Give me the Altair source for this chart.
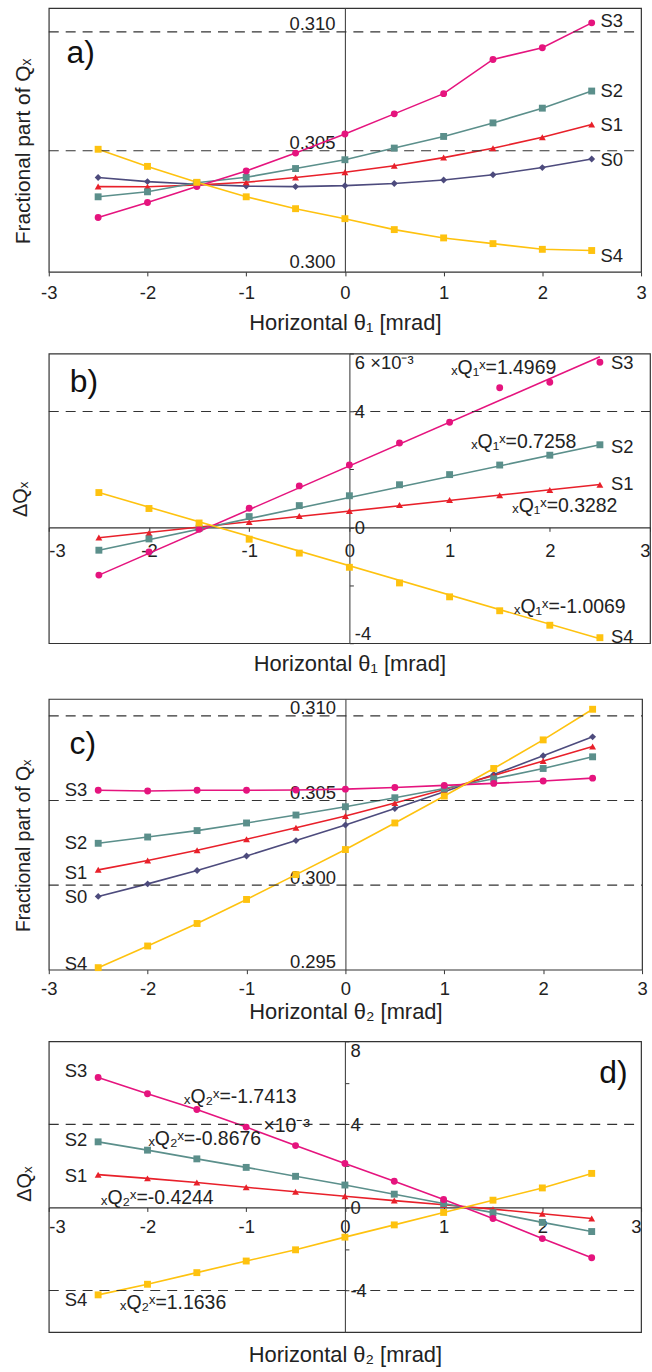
import altair as alt
import pandas as pd

FONT = "Liberation Sans"
INK = "#222222"

theta = [-2.5, -2.0, -1.5, -1.0, -0.5, 0.0, 0.5, 1.0, 1.5, 2.0, 2.5]
fit_theta = [-2.5, 2.5]
series_names = ["S0", "S1", "S2", "S3", "S4"]
series_colors = ["#4d4b7d", "#e8202a", "#5b8f8b", "#e5147e", "#fec20f"]
series_shapes = ["diamond", "triangle-up", "square", "circle", "square"]
x_ticks = [-3, -2, -1, 0, 1, 2, 3]

# ---------------- panel a : fractional tune vs theta1
a_S0 = [0.30387, 0.30370, 0.30359, 0.30351, 0.30349, 0.30353, 0.30362, 0.30377, 0.30399, 0.30429, 0.30465]
a_S1 = [0.30349, 0.30348, 0.30356, 0.30367, 0.30387, 0.30409, 0.30437, 0.30471, 0.30510, 0.30557, 0.30610]
a_S2 = [0.30306, 0.30327, 0.30365, 0.30388, 0.30425, 0.30462, 0.30511, 0.30560, 0.30617, 0.30679, 0.30751]
a_S3 = [0.30219, 0.30282, 0.30349, 0.30415, 0.30490, 0.30570, 0.30655, 0.30740, 0.30884, 0.30933, 0.31038]
a_S4 = [0.30506, 0.30434, 0.30367, 0.30306, 0.30256, 0.30214, 0.30168, 0.30133, 0.30109, 0.30085, 0.30080]
a_y_ticks = [0.300, 0.305, 0.310]
a_dashed = [0.305, 0.310]
a_label_text = ["S3", "S2", "S1", "S0", "S4"]
a_label_x = [2.59, 2.59, 2.59, 2.59, 2.59]
a_label_y = [0.31046, 0.30751, 0.30609, 0.30460, 0.30058]

# ---------------- panel b : delta Q vs theta1 (x1e-3)
b_S1 = [-0.35, -0.20, 0.00, 0.18, 0.39, 0.56, 0.77, 0.94, 1.11, 1.29, 1.47]
b_S2 = [-0.79, -0.40, -0.03, 0.37, 0.75, 1.09, 1.47, 1.82, 2.15, 2.49, 2.85]
b_S3 = [-1.65, -0.85, -0.07, 0.66, 1.43, 2.15, 2.91, 3.63, 4.82, 5.01, 5.70]
b_S4 = [1.20, 0.65, 0.15, -0.41, -0.89, -1.38, -1.92, -2.40, -2.88, -3.38, -3.81]
b_fit_S1 = [-0.36, 1.48]
b_fit_S2 = [-0.79, 2.85]
b_fit_S3 = [-1.65, 5.89]
b_fit_S4 = [1.20, -3.85]
b_y_ticks = [-4, -2, 0, 2, 4, 6]
b_dashed = [4]
b_label_text = ["S3", "S2", "S1", "S4"]
b_label_x = [2.61, 2.61, 2.61, 2.61]
b_label_y = [5.68, 2.78, 1.50, -3.78]
b_ann_text = ["ₓQ₁ˣ=1.4969", "ₓQ₁ˣ=0.7258", "ₓQ₁ˣ=0.3282", "ₓQ₁ˣ=-1.0069"]
b_ann_x = [1.54, 1.74, 2.15, 2.20]
b_ann_y = [5.51, 2.94, 0.74, -2.75]

# ---------------- panel c : fractional tune vs theta2
c_S0 = [0.29933, 0.30007, 0.30086, 0.30172, 0.30263, 0.30355, 0.30452, 0.30552, 0.30654, 0.30764, 0.30876]
c_S1 = [0.30090, 0.30145, 0.30206, 0.30271, 0.30339, 0.30408, 0.30485, 0.30565, 0.30648, 0.30733, 0.30819]
c_S2 = [0.30247, 0.30284, 0.30322, 0.30367, 0.30414, 0.30463, 0.30516, 0.30571, 0.30628, 0.30689, 0.30758]
c_S3 = [0.30560, 0.30556, 0.30560, 0.30560, 0.30562, 0.30567, 0.30577, 0.30589, 0.30601, 0.30615, 0.30632]
c_S4 = [0.29512, 0.29640, 0.29773, 0.29915, 0.30062, 0.30210, 0.30367, 0.30526, 0.30689, 0.30858, 0.31039]
c_y_ticks = [0.295, 0.300, 0.305, 0.310]
c_dashed = [0.300, 0.305, 0.310]
c_label_text = ["S3", "S2", "S1", "S0", "S4"]
c_label_x = [-2.61, -2.61, -2.61, -2.61, -2.61]
c_label_y = [0.30562, 0.30247, 0.30073, 0.29929, 0.29536]

# ---------------- panel d : delta Q vs theta2 (x1e-3)
d_S1 = [1.58, 1.40, 1.20, 0.97, 0.76, 0.54, 0.33, 0.13, -0.08, -0.30, -0.53]
d_S2 = [3.16, 2.76, 2.34, 1.93, 1.50, 1.08, 0.64, 0.19, -0.25, -0.72, -1.16]
d_S3 = [6.26, 5.48, 4.72, 3.87, 2.98, 2.12, 1.26, 0.38, -0.53, -1.50, -2.42]
d_S4 = [-4.21, -3.70, -3.14, -2.58, -2.04, -1.43, -0.84, -0.24, 0.35, 0.94, 1.64]
d_y_ticks = [-6, -4, -2, 0, 2, 4, 6, 8]
d_dashed = [-4, 4]
d_label_text = ["S3", "S2", "S1", "S4"]
d_label_x = [-2.61, -2.61, -2.61, -2.61]
d_label_y = [6.55, 3.24, 1.53, -4.45]
d_ann_text = ["ₓQ₂ˣ=-1.7413", "ₓQ₂ˣ=-0.8676", "ₓQ₂ˣ=-0.4244", "ₓQ₂ˣ=1.1636", "×10⁻³"]
d_ann_x = [-1.06, -1.42, -1.90, -1.74, -0.59]
d_ann_y = [5.33, 3.29, 0.45, -4.61, 3.91]


def long_table(xs, by_series):
    rows = []
    for s, vals in by_series.items():
        for t, v in zip(xs, vals):
            rows.append({"theta": t, "value": v, "series": s})
    return pd.DataFrame(rows)


def text_table(texts, xs, ys):
    return pd.DataFrame({"text": texts, "x": xs, "y": ys})


CS = alt.Scale(domain=series_names, range=series_colors)
SS = alt.Scale(domain=series_names, range=series_shapes)


def x_axis(title, offset, flush, pad, title_y):
    return alt.Axis(
        orient="bottom", offset=offset, values=x_ticks,
        labelExpr="'' + datum.value", labelFlush=flush, labelOverlap=False,
        grid=False, domain=offset != 0, domainColor="#333", domainWidth=1.2,
        ticks=True, tickSize=4, tickColor="#333",
        labelFont=FONT, labelFontSize=18.5, labelColor=INK, labelPadding=pad,
        title=title, titleFont=FONT, titleFontSize=22, titleFontWeight="normal",
        titleColor=INK, titleY=title_y, titleBaseline="middle",
    )


def y_axis_frac(W, ticks, title_size, title_y):
    return alt.Axis(
        orient="left", offset=-W / 2, values=ticks,
        labelExpr="format(datum.value, '.3f')", labelFlush=False, labelOverlap=False,
        grid=False, ticks=False, tickSize=0, domain=True, domainColor="#444", domainWidth=1.1,
        labelFont=FONT, labelFontSize=18.5, labelColor=INK, labelPadding=10,
        labelBaseline="alphabetic", labelOffset=-2,
        title="Fractional part of Qₓ", titleFont=FONT, titleFontSize=title_size,
        titleFontWeight="normal", titleColor=INK, titleAngle=270,
        titleX=-25 - W / 2, titleY=title_y, titleBaseline="middle", titleAlign="center",
    )


def y_axis_delta(W, ticks, expr, title_x, title_y):
    return alt.Axis(
        orient="right", offset=-W / 2, values=ticks, labelExpr=expr,
        labelFlush=True, labelOverlap=False,
        grid=False, ticks=True, tickSize=4, tickColor="#333",
        domain=True, domainColor="#444", domainWidth=1.1,
        labelFont=FONT, labelFontSize=18.5, labelColor=INK, labelPadding=1,
        title="ΔQₓ", titleFont=FONT, titleFontSize=20, titleFontWeight="normal",
        titleColor=INK, titleAngle=270, titleX=title_x - W / 2, titleY=title_y,
        titleBaseline="middle", titleAlign="center",
    )


def panel(W, H, ydom, xaxis, yaxis, pts, lines, dashed, labels, label_align,
          anns, letter, letter_align):
    xs = alt.Scale(domain=[-3, 3], nice=False, zero=False)
    ys = alt.Scale(domain=ydom, nice=False, zero=False)
    layers = []
    layers.append(
        alt.Chart(lines).mark_line(strokeWidth=1.6).encode(
            x=alt.X("theta:Q", scale=xs, axis=xaxis),
            y=alt.Y("value:Q", scale=ys, axis=yaxis),
            color=alt.Color("series:N", scale=CS, legend=None),
            detail="series:N",
        )
    )
    layers.append(
        alt.Chart(pd.DataFrame({"y": dashed, "x0": [-3] * len(dashed), "x1": [3] * len(dashed)})).mark_rule(
            strokeDash=[10, 7], color="#333", strokeWidth=1.1
        ).encode(
            x=alt.X("x0:Q", scale=xs, axis=xaxis),
            x2="x1:Q",
            y=alt.Y("y:Q", scale=ys, axis=yaxis),
        )
    )
    layers.append(
        alt.Chart(pts).mark_point(filled=True, size=48, opacity=1).encode(
            x=alt.X("theta:Q", scale=xs, axis=xaxis),
            y=alt.Y("value:Q", scale=ys, axis=yaxis),
            color=alt.Color("series:N", scale=CS, legend=None),
            shape=alt.Shape("series:N", scale=SS, legend=None),
        )
    )
    layers.append(
        alt.Chart(labels).mark_text(
            font=FONT, fontSize=18.5, color=INK, align=label_align, baseline="middle"
        ).encode(
            x=alt.X("x:Q", scale=xs, axis=xaxis),
            y=alt.Y("y:Q", scale=ys, axis=yaxis),
            text="text:N",
        )
    )
    if anns is not None:
        layers.append(
            alt.Chart(anns).mark_text(
                font=FONT, fontSize=19.5, color=INK, align="center", baseline="middle"
            ).encode(
                x=alt.X("x:Q", scale=xs, axis=xaxis),
                y=alt.Y("y:Q", scale=ys, axis=yaxis),
                text="text:N",
            )
        )
    layers.append(
        alt.Chart(letter).mark_text(
            font=FONT, fontSize=32, color="#111", align=letter_align, baseline="middle"
        ).encode(
            x=alt.X("x:Q", scale=xs, axis=xaxis),
            y=alt.Y("y:Q", scale=ys, axis=yaxis),
            text="text:N",
        )
    )
    return alt.layer(*layers).properties(width=W, height=H)


# ---- panel a
WA, HA = 595, 265
a_pts = long_table(theta, {"S0": a_S0, "S1": a_S1, "S2": a_S2, "S3": a_S3, "S4": a_S4})
pa = panel(
    WA, HA, [0.2999, 0.3110],
    x_axis("Horizontal θ₁ [mrad]", 0, False, 8, 51), y_axis_frac(WA, a_y_ticks, 21, 143.5),
    a_pts, a_pts, a_dashed,
    text_table(a_label_text, a_label_x, a_label_y), "left", None,
    text_table(["a)"], [-2.82], [0.30909]), "left",
)

# ---- panel b
WB, HB = 604, 291
b_pts = long_table(theta, {"S1": b_S1, "S2": b_S2, "S3": b_S3, "S4": b_S4})
b_lines = long_table(fit_theta, {"S1": b_fit_S1, "S2": b_fit_S2, "S3": b_fit_S3, "S4": b_fit_S4})
b_zero = HB * 4 / 10
b_expr = "datum.value == 6 ? '6 ×10⁻³' : (abs(datum.value) == 2 ? '' : '' + datum.value)"
pb = panel(
    WB, HB, [-4, 6],
    x_axis("Horizontal θ₁ [mrad]", -b_zero, True, 10, 137),
    y_axis_delta(WB, b_y_ticks, b_expr, -28, 146),
    b_pts, b_lines, b_dashed,
    text_table(b_label_text, b_label_x, b_label_y), "left",
    text_table(b_ann_text, b_ann_x, b_ann_y),
    text_table(["b)"], [-2.79], [5.0]), "left",
)

# ---- panel c
WC, HC = 596, 272
c_pts = long_table(theta, {"S0": c_S0, "S1": c_S1, "S2": c_S2, "S3": c_S3, "S4": c_S4})
pc = panel(
    WC, HC, [0.295, 0.311],
    x_axis("Horizontal θ₂ [mrad]", 0, False, 6, 42), y_axis_frac(WC, c_y_ticks, 19.5, 147),
    c_pts, c_pts, c_dashed,
    text_table(c_label_text, c_label_x, c_label_y), "right", None,
    text_table(["c)"], [-2.79], [0.30835]), "left",
)

# ---- panel d
WD, HD = 595, 292
d_pts = long_table(theta, {"S1": d_S1, "S2": d_S2, "S3": d_S3, "S4": d_S4})
d_zero = HD * 6 / 14
d_expr = "(datum.value == 8 || datum.value == 4 || datum.value == 0 || datum.value == -4) ? '' + datum.value : ''"
pdd = panel(
    WD, HD, [-6, 8],
    x_axis("Horizontal θ₂ [mrad]", -d_zero, True, 6, 148),
    y_axis_delta(WD, d_y_ticks, d_expr, -24, 143),
    d_pts, d_pts, d_dashed,
    text_table(d_label_text, d_label_x, d_label_y), "right",
    text_table(d_ann_text, d_ann_x, d_ann_y),
    text_table(["d)"], [2.72], [6.49]), "center",
)


def spacer(h):
    return alt.Chart(pd.DataFrame({"v": [0]})).mark_rule(opacity=0).encode(
        x=alt.value(5), y=alt.value(0), y2=alt.value(1)
    ).properties(width=10, height=h, view=alt.ViewBackground(stroke="transparent"))


chart = alt.vconcat(
    pa, spacer(82), pb, spacer(56), pc, spacer(72), pdd,
    spacing=0, bounds="flush",
).properties(
    padding={"left": 10, "top": 4, "right": 0, "bottom": 0}
).configure_view(stroke="#333", strokeWidth=1.2)

chart.save("out.html", embed_options={"renderer": "svg", "actions": False})
